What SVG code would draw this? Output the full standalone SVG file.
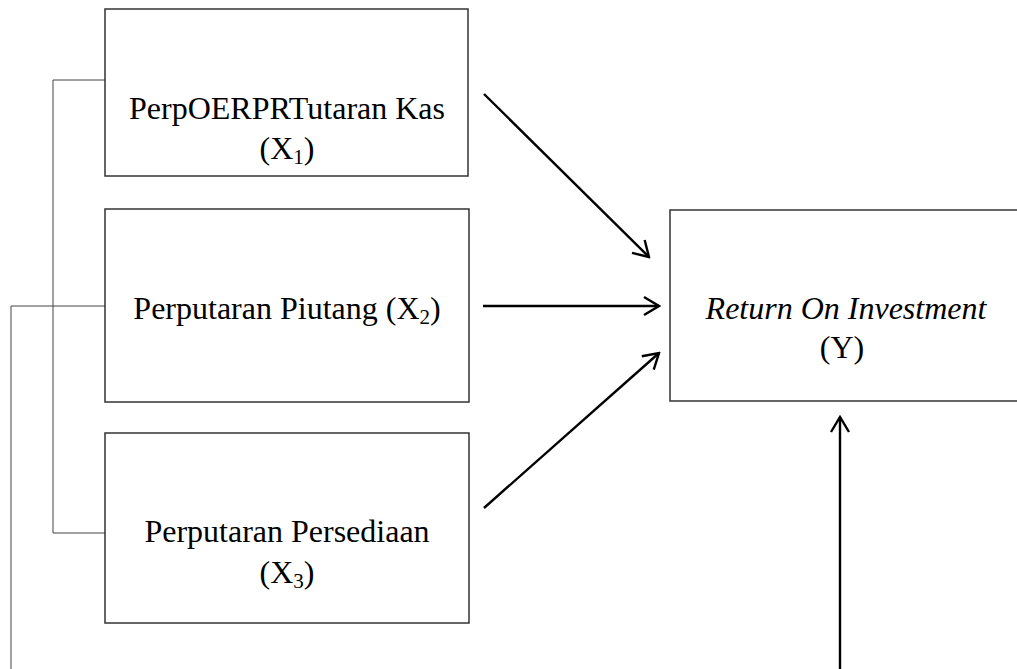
<svg xmlns="http://www.w3.org/2000/svg" width="1017" height="669" viewBox="0 0 1017 669">
<style>
.box{fill:#fff;stroke:#333;stroke-width:1.5}
.t{font-family:"Liberation Serif","Times New Roman",serif;font-size:32px;fill:#000;text-anchor:middle}
.sub{font-size:21px}
.thin{fill:none;stroke:#444;stroke-width:1}
.arr{fill:none;stroke:#000;stroke-width:2.4;marker-end:url(#ah)}
</style>
<defs>
<marker id="ah" viewBox="0 0 22 22" refX="20" refY="11" markerWidth="22" markerHeight="22" markerUnits="userSpaceOnUse" orient="auto">
<path d="M5,2 L20,11 L5,20" fill="none" stroke="#000" stroke-width="2.4"/>
</marker>
</defs>
<g id="connectors">
<polyline class="thin" points="105,80 53,80 53,533 105,533"/>
<polyline class="thin" points="105,306 11,306 11,669"/>
<line class="arr" x1="484" y1="94" x2="649" y2="257"/>
<line class="arr" x1="483" y1="306" x2="659" y2="306"/>
<line class="arr" x1="484" y1="508" x2="659" y2="353"/>
<line class="arr" x1="840" y1="669" x2="840" y2="417"/>
</g>
<g id="x1">
<rect class="box" x="105" y="9" width="363" height="167"/>
<text class="t" x="287" y="119">PerpOERPRTutaran Kas</text>
<text class="t" x="287" y="159">(X<tspan class="sub" dy="5">1</tspan><tspan dy="-5">)</tspan></text>
</g>
<g id="x2">
<rect class="box" x="105" y="209" width="364" height="193"/>
<text class="t" x="287" y="319">Perputaran Piutang (X<tspan class="sub" dy="5">2</tspan><tspan dy="-5">)</tspan></text>
</g>
<g id="x3">
<rect class="box" x="105" y="433" width="364" height="190"/>
<text class="t" x="287" y="542">Perputaran Persediaan</text>
<text class="t" x="287" y="583">(X<tspan class="sub" dy="5">3</tspan><tspan dy="-5">)</tspan></text>
</g>
<g id="y">
<path class="box" d="M1017,210 L670,210 L670,401 L1017,401"/>
<text class="t" x="846" y="319" font-style="italic">Return On Investment</text>
<text class="t" x="842" y="358">(Y)</text>
</g>
</svg>
